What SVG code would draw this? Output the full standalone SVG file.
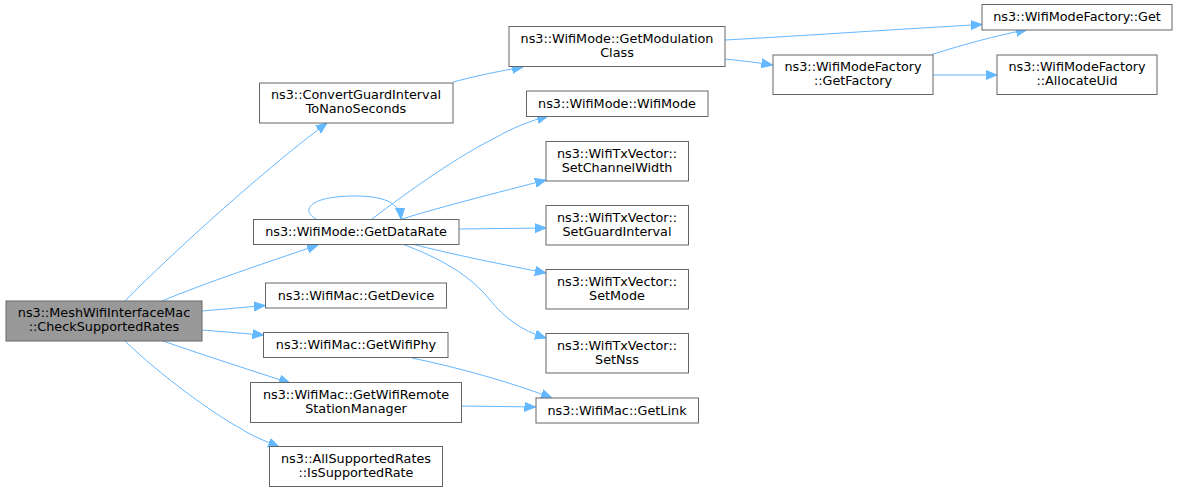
<svg xmlns="http://www.w3.org/2000/svg" width="1179" height="492" viewBox="0 0 1179 492">
<defs>
<style>
.n rect{fill:#fff;stroke:#666;stroke-width:1}
.n.main rect{fill:#999}
.n text{font-family:"DejaVu Sans","Liberation Sans",sans-serif;font-size:12.8px;text-anchor:middle;fill:#000}
.e path{fill:none;stroke:#63b8ff;stroke-width:1;marker-end:url(#ah)}
</style>
<marker id="ah" markerUnits="userSpaceOnUse" markerWidth="12" markerHeight="10" refX="11" refY="4.5" orient="auto" viewBox="0 0 12 9">
<path d="M0,0 L11,4.5 L0,9 Z" fill="#63b8ff" stroke="#63b8ff"/>
</marker>
</defs>
<rect width="1179" height="492" fill="#fff"/>
<g class="e" id="edges">
<path d="M125,301 C175,250 270,165 327,123"/>
<path d="M162,301 C205,283 265,263 318,245"/>
<path d="M202,311 L265,305.5"/>
<path d="M202,330 L263.5,335"/>
<path d="M163,341 C200,354 250,370 290,383"/>
<path d="M125,341 C160,375 215,415 240,428 C250,435 265,441 279,447"/>
<path d="M453,82 C475,76 500,71 523,67"/>
<path d="M316,219 C300,210 310,196 355,196 C390,196 400,206 401,219"/>
<path d="M372,219 C410,190 460,155 495,138 C512,128 530,121 548,116"/>
<path d="M402,219 C440,207 500,192 546,180"/>
<path d="M459,229 L546,228"/>
<path d="M412,244 C450,254 510,266 546,273"/>
<path d="M402,244 C440,258 470,275 490,300 C505,318 520,330 546,338"/>
<path d="M412,358 C460,368 510,382 552,398"/>
<path d="M461,406 L535.5,407"/>
<path d="M725,40 C800,36 900,29 982,24.5"/>
<path d="M725,59 C745,61 760,63 772.5,65"/>
<path d="M932,54.5 C965,44 995,36 1027,29.5"/>
<path d="M933,75 L997,75"/>
</g>
<g class="n main" id="node-checksupportedrates"><rect x="6" y="301" width="196" height="40"/><text x="104" y="317">ns3::MeshWifiInterfaceMac</text><text x="104" y="331">::CheckSupportedRates</text></g>
<g class="n" id="node-convertguardinterval"><rect x="259.5" y="83" width="193.5" height="40"/><text x="356" y="99">ns3::ConvertGuardInterval</text><text x="356" y="113">ToNanoSeconds</text></g>
<g class="n" id="node-getdatarate"><rect x="253.5" y="219.5" width="205.5" height="25"/><text x="356" y="236">ns3::WifiMode::GetDataRate</text></g>
<g class="n" id="node-getdevice"><rect x="265.5" y="283" width="181" height="25"/><text x="356" y="299.5">ns3::WifiMac::GetDevice</text></g>
<g class="n" id="node-getwifiphy"><rect x="263.5" y="332.5" width="184.5" height="25"/><text x="356" y="349">ns3::WifiMac::GetWifiPhy</text></g>
<g class="n" id="node-getwifiremote"><rect x="250.5" y="382.5" width="211" height="40"/><text x="356" y="398.5">ns3::WifiMac::GetWifiRemote</text><text x="356" y="412.5">StationManager</text></g>
<g class="n" id="node-issupportedrate"><rect x="269.5" y="446.5" width="173" height="40"/><text x="356" y="462.5">ns3::AllSupportedRates</text><text x="356" y="476.5">::IsSupportedRate</text></g>
<g class="n" id="node-getmodulationclass"><rect x="509" y="26.5" width="216" height="40"/><text x="617" y="42.5">ns3::WifiMode::GetModulation</text><text x="617" y="56.5">Class</text></g>
<g class="n" id="node-wifimode"><rect x="526.5" y="91" width="181.5" height="25.5"/><text x="617" y="107.5">ns3::WifiMode::WifiMode</text></g>
<g class="n" id="node-setchannelwidth"><rect x="546" y="141.5" width="142.5" height="39.5"/><text x="617" y="157.5">ns3::WifiTxVector::</text><text x="617" y="171.5">SetChannelWidth</text></g>
<g class="n" id="node-setguardinterval"><rect x="546" y="205.5" width="142.5" height="39.5"/><text x="617" y="221.5">ns3::WifiTxVector::</text><text x="617" y="235.5">SetGuardInterval</text></g>
<g class="n" id="node-setmode"><rect x="546" y="269.5" width="142.5" height="39.5"/><text x="617" y="285.5">ns3::WifiTxVector::</text><text x="617" y="299.5">SetMode</text></g>
<g class="n" id="node-setnss"><rect x="546" y="333.5" width="142.5" height="39.5"/><text x="617" y="349.5">ns3::WifiTxVector::</text><text x="617" y="363.5">SetNss</text></g>
<g class="n" id="node-getlink"><rect x="536" y="398" width="162.5" height="25"/><text x="617" y="414.5">ns3::WifiMac::GetLink</text></g>
<g class="n" id="node-factoryget"><rect x="982" y="4.5" width="190" height="25.5"/><text x="1077" y="21">ns3::WifiModeFactory::Get</text></g>
<g class="n" id="node-getfactory"><rect x="773" y="55" width="160" height="39.5"/><text x="853" y="71">ns3::WifiModeFactory</text><text x="853" y="85">::GetFactory</text></g>
<g class="n" id="node-allocateuid"><rect x="997" y="55" width="160" height="39.5"/><text x="1077" y="71">ns3::WifiModeFactory</text><text x="1077" y="85">::AllocateUid</text></g>
</svg>
